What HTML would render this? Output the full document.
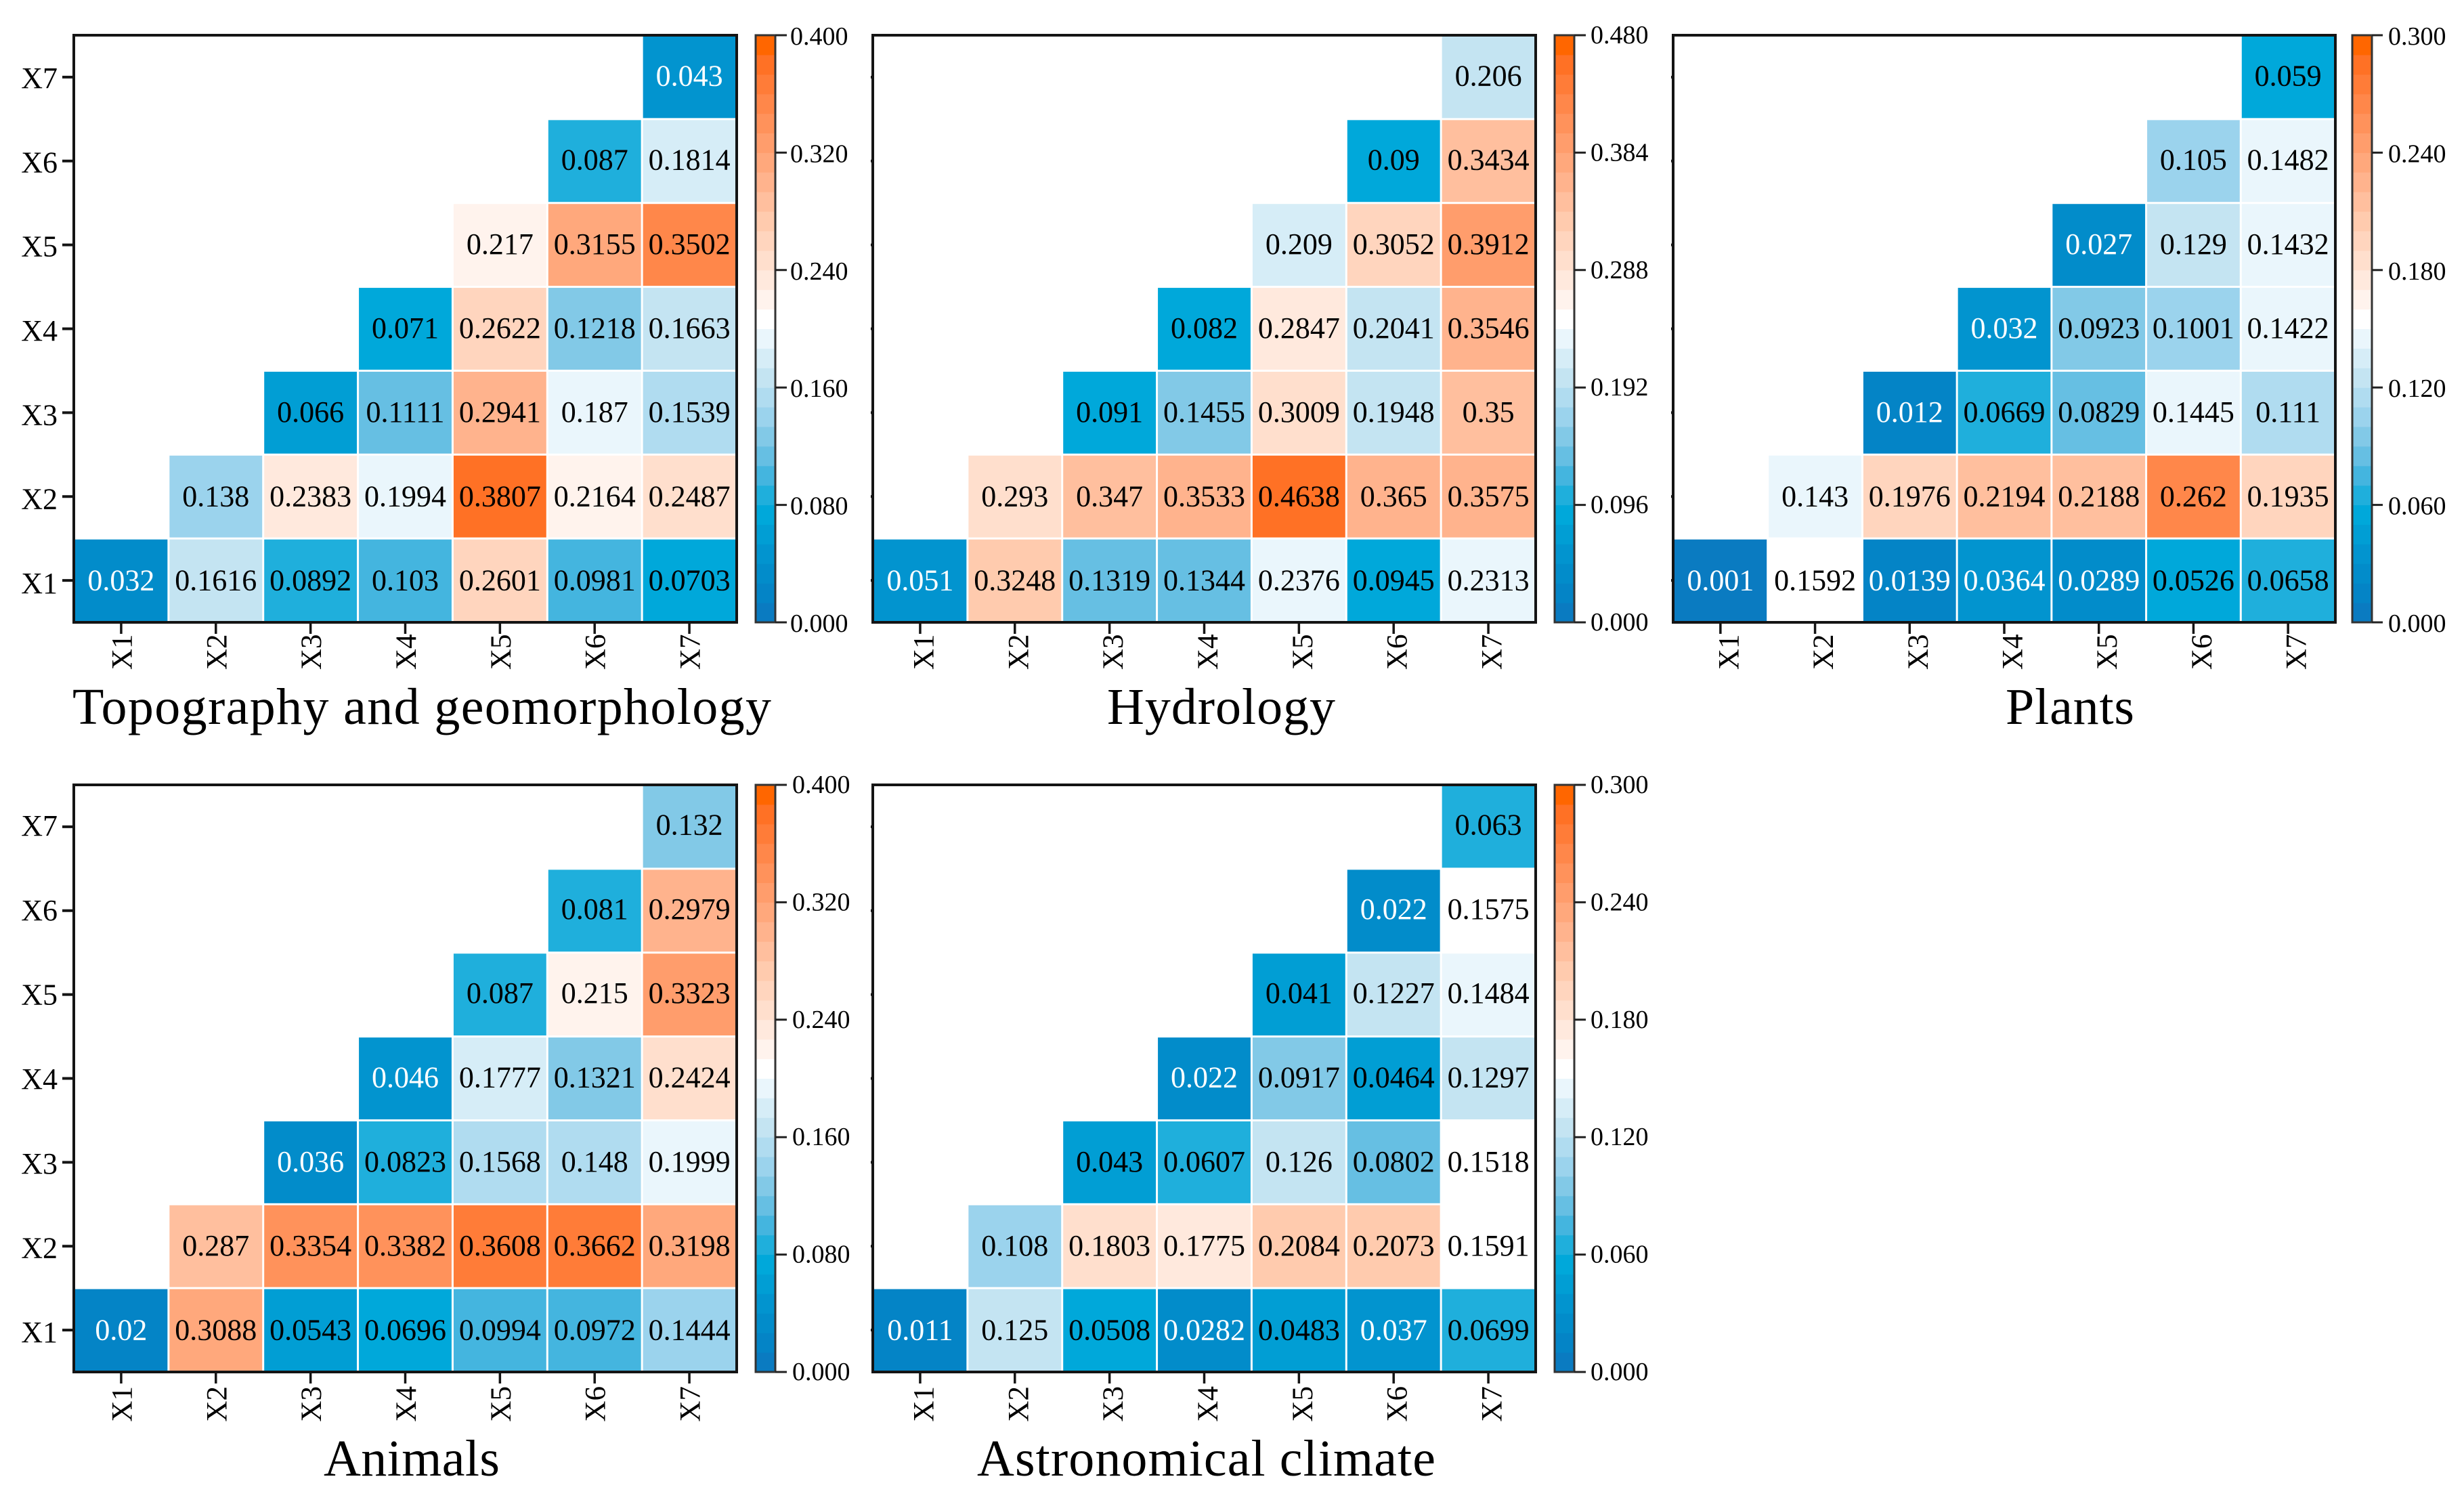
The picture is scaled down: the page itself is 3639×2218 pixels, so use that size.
<!DOCTYPE html>
<html lang="en">
<head>
<meta charset="utf-8">
<title>Interaction heatmaps</title>
<style>
html,body{margin:0;padding:0;background:#fff;}
svg{display:block;}
text{font-family:"Liberation Serif",serif;fill:#000;}
</style>
</head>
<body>
<svg id="chart" xmlns="http://www.w3.org/2000/svg" width="3639" height="2218" viewBox="0 0 3639 2218"></svg>
<script>
// Shared categories
const categories = ['X1','X2','X3','X4','X5','X6','X7'];

// Panel 1 values, bottom row (X1) first
const topoX1 = [0.032,0.1616,0.0892,0.103,0.2601,0.0981,0.0703];
const topoX2 = [null,0.138,0.2383,0.1994,0.3807,0.2164,0.2487];
const topoX3 = [null,null,0.066,0.1111,0.2941,0.187,0.1539];
const topoX4 = [null,null,null,0.071,0.2622,0.1218,0.1663];
const topoX5 = [null,null,null,null,0.217,0.3155,0.3502];
const topoX6 = [null,null,null,null,null,0.087,0.1814];
const topoX7 = [null,null,null,null,null,null,0.043];
const topoTicks = ['0.000','0.080','0.160','0.240','0.320','0.400'];

// Panel 2 values
const hydroX1 = [0.051,0.3248,0.1319,0.1344,0.2376,0.0945,0.2313];
const hydroX2 = [null,0.293,0.347,0.3533,0.4638,0.365,0.3575];
const hydroX3 = [null,null,0.091,0.1455,0.3009,0.1948,0.35];
const hydroX4 = [null,null,null,0.082,0.2847,0.2041,0.3546];
const hydroX5 = [null,null,null,null,0.209,0.3052,0.3912];
const hydroX6 = [null,null,null,null,null,0.09,0.3434];
const hydroX7 = [null,null,null,null,null,null,0.206];
const hydroTicks = ['0.000','0.096','0.192','0.288','0.384','0.480'];

// Panel 3 values
const plantX1 = [0.001,0.1592,0.0139,0.0364,0.0289,0.0526,0.0658];
const plantX2 = [null,0.143,0.1976,0.2194,0.2188,0.262,0.1935];
const plantX3 = [null,null,0.012,0.0669,0.0829,0.1445,0.111];
const plantX4 = [null,null,null,0.032,0.0923,0.1001,0.1422];
const plantX5 = [null,null,null,null,0.027,0.129,0.1432];
const plantX6 = [null,null,null,null,null,0.105,0.1482];
const plantX7 = [null,null,null,null,null,null,0.059];
const plantTicks = ['0.000','0.060','0.120','0.180','0.240','0.300'];

// Panel 4 values
const animalX1 = [0.02,0.3088,0.0543,0.0696,0.0994,0.0972,0.1444];
const animalX2 = [null,0.287,0.3354,0.3382,0.3608,0.3662,0.3198];
const animalX3 = [null,null,0.036,0.0823,0.1568,0.148,0.1999];
const animalX4 = [null,null,null,0.046,0.1777,0.1321,0.2424];
const animalX5 = [null,null,null,null,0.087,0.215,0.3323];
const animalX6 = [null,null,null,null,null,0.081,0.2979];
const animalX7 = [null,null,null,null,null,null,0.132];
const animalTicks = ['0.000','0.080','0.160','0.240','0.320','0.400'];

// Panel 5 values
const astroX1 = [0.011,0.125,0.0508,0.0282,0.0483,0.037,0.0699];
const astroX2 = [null,0.108,0.1803,0.1775,0.2084,0.2073,0.1591];
const astroX3 = [null,null,0.043,0.0607,0.126,0.0802,0.1518];
const astroX4 = [null,null,null,0.022,0.0917,0.0464,0.1297];
const astroX5 = [null,null,null,null,0.041,0.1227,0.1484];
const astroX6 = [null,null,null,null,null,0.022,0.1575];
const astroX7 = [null,null,null,null,null,null,0.063];
const astroTicks = ['0.000','0.060','0.120','0.180','0.240','0.300'];

const palette = ['#0a7bc1','#0484c6','#028cca','#0294cf','#019ed4','#00a8da','#1fafdc','#44b5df','#66bfe3','#82c9e7',
  '#9bd3ed','#b0dcf0','#c4e4f2','#d6edf7','#eaf6fc','#ffffff','#fff3ed','#ffe9dd','#ffdfcd','#ffd5be',
  '#ffcbae','#ffbf9e','#ffb38d','#ffa87c','#ff9d6c','#ff925b','#ff874a','#ff7c38','#ff7125','#ff6600'];

const panels = [
  {key:'topography',title:'Topography and geomorphology',rows:[topoX1,topoX2,topoX3,topoX4,topoX5,topoX6,topoX7],ticks:topoTicks,
   left:109,right:1088,top:52,bottom:919,cbLeft:1116,cbRight:1145,tickEnd:1162,labelX:1167,labelDrop:14,titleX:107,titleW:1032,titleY:1069,yLabels:true,xLabelShift:1,xLabelGap:17.5,yDrop:19,yDropStep:0.5,valueStep:0.33},
  {key:'hydrology',title:'Hydrology',rows:[hydroX1,hydroX2,hydroX3,hydroX4,hydroX5,hydroX6,hydroX7],ticks:hydroTicks,
   left:1289,right:2268,top:52,bottom:919,cbLeft:2296,cbRight:2325,tickEnd:2342,labelX:2349,labelDrop:12,titleX:1635,titleW:337,titleY:1069,yLabels:false,xLabelShift:5,xLabelGap:17.5,yDrop:0,yDropStep:0,valueStep:0.33},
  {key:'plants',title:'Plants',rows:[plantX1,plantX2,plantX3,plantX4,plantX5,plantX6,plantX7],ticks:plantTicks,
   left:2471,right:3449,top:52,bottom:919,cbLeft:3474,cbRight:3503,tickEnd:3519,labelX:3527,labelDrop:14,titleX:2962,titleW:190,titleY:1069,yLabels:false,xLabelShift:12,xLabelGap:17.5,yDrop:0,yDropStep:0,valueStep:0.33},
  {key:'animals',title:'Animals',rows:[animalX1,animalX2,animalX3,animalX4,animalX5,animalX6,animalX7],ticks:animalTicks,
   left:109,right:1088,top:1159,bottom:2026,cbLeft:1116,cbRight:1145,tickEnd:1162,labelX:1170,labelDrop:12,titleX:478,titleW:260,titleY:2179,yLabels:true,xLabelShift:1,xLabelGap:21,yDrop:18,yDropStep:0.8,valueStep:0.5},
  {key:'astronomical',title:'Astronomical climate',rows:[astroX1,astroX2,astroX3,astroX4,astroX5,astroX6,astroX7],ticks:astroTicks,
   left:1289,right:2268,top:1159,bottom:2026,cbLeft:2296,cbRight:2325,tickEnd:2342,labelX:2349,labelDrop:12,titleX:1443,titleW:677,titleY:2179,yLabels:false,xLabelShift:5,xLabelGap:21,yDrop:0,yDropStep:0,valueStep:0.5}
];

const NS = 'http://www.w3.org/2000/svg';
const root = document.getElementById('chart');
const INK = '#141414';

function make(tag, attrs, parent, content) {
  const el = document.createElementNS(NS, tag);
  for (const k in attrs) el.setAttribute(k, attrs[k]);
  if (content !== undefined) el.textContent = content;
  parent.appendChild(el);
  return el;
}

panels.forEach(function (p) {
  const vmax = parseFloat(p.ticks[p.ticks.length - 1]);
  const n = categories.length;
  const cw = (p.right - p.left) / n;
  const ch = (p.bottom - p.top) / n;
  const xAt = function (i) { return p.left + cw * i; };
  const yAt = function (j) { return p.bottom - ch * (j + 1); };
  const cbY = function (v) { return p.bottom - (v / vmax) * (p.bottom - p.top); };
  const bandOf = function (v) { return Math.min(palette.length - 1, Math.floor(v / vmax * palette.length)); };

  const g = make('g', {}, root);
  
  

  // cells
  p.rows.forEach(function (row, j) {
    row.forEach(function (v, i) {
      if (v === null) return;
      const rect = make('rect', {x: xAt(i) + 1.5, y: yAt(j) + 1.5, width: cw - 3, height: ch - 3, fill: palette[bandOf(v)]}, g);
      
      
      const label = make('text', {
        x: xAt(i) + cw / 2, y: yAt(j) + ch / 2 + 14.5 - p.valueStep * j, 'font-size': 44, 'text-anchor': 'middle',
        style: 'fill:' + (v / vmax < 0.13 ? '#ffffff' : '#000000')
      }, g, String(v));
      
      
    });
  });

  // frame
  const frame = make('rect', {x: p.left, y: p.top, width: p.right - p.left, height: p.bottom - p.top, fill: 'none', stroke: INK, 'stroke-width': 4}, g);
  
  

  // x axis
  categories.forEach(function (c, i) {
    const cx = xAt(i) + cw / 2;
    const t = make('line', {x1: cx, x2: cx, y1: p.bottom, y2: p.bottom + 17, stroke: INK, 'stroke-width': 3.5}, g);
    
    
    const lx = cx + p.xLabelShift + 14.5;
    const ly = p.bottom + p.xLabelGap;
    const l = make('text', {'font-size': 43, 'text-anchor': 'end', transform: 'translate(' + lx + ' ' + ly + ') rotate(-90)'}, g, c);
    
    
  });

  // y axis
  categories.forEach(function (c, j) {
    const cy = yAt(j) + ch / 2;
    const t = make('line', {x1: p.left - (p.yLabels ? 17 : 3), x2: p.left, y1: cy, y2: cy, stroke: INK, 'stroke-width': 4}, g);
    
    
    if (p.yLabels) {
      const l = make('text', {x: p.left - 24, y: cy + p.yDrop - p.yDropStep * j, 'font-size': 44, 'text-anchor': 'end'}, g, c);
      
      
    }
  });

  // colorbar
  const cb = make('g', {}, g);
  
  
  palette.forEach(function (col, b) {
    const y1 = cbY(vmax * (b + 1) / palette.length);
    const y0 = cbY(vmax * b / palette.length);
    const band = make('rect', {x: p.cbLeft, y: y1, width: p.cbRight - p.cbLeft, height: y0 - y1 + 0.5, fill: col}, cb);
    
    
  });
  const cbFrame = make('rect', {x: p.cbLeft, y: p.top, width: p.cbRight - p.cbLeft, height: p.bottom - p.top, fill: 'none', stroke: '#333', 'stroke-width': 3}, cb);
  
  
  p.ticks.forEach(function (txt) {
    const y = cbY(parseFloat(txt));
    const t = make('line', {x1: p.cbRight, x2: p.tickEnd, y1: y, y2: y, stroke: '#222', 'stroke-width': 3}, cb);
    
    
    const l = make('text', {x: p.labelX, y: y + p.labelDrop, 'font-size': 38}, cb, txt);
    
    
  });

  // title
  const title = make('text', {x: p.titleX, y: p.titleY, 'font-size': 76, textLength: p.titleW}, g, p.title);
  
  
});
</script>
</body>
</html>
